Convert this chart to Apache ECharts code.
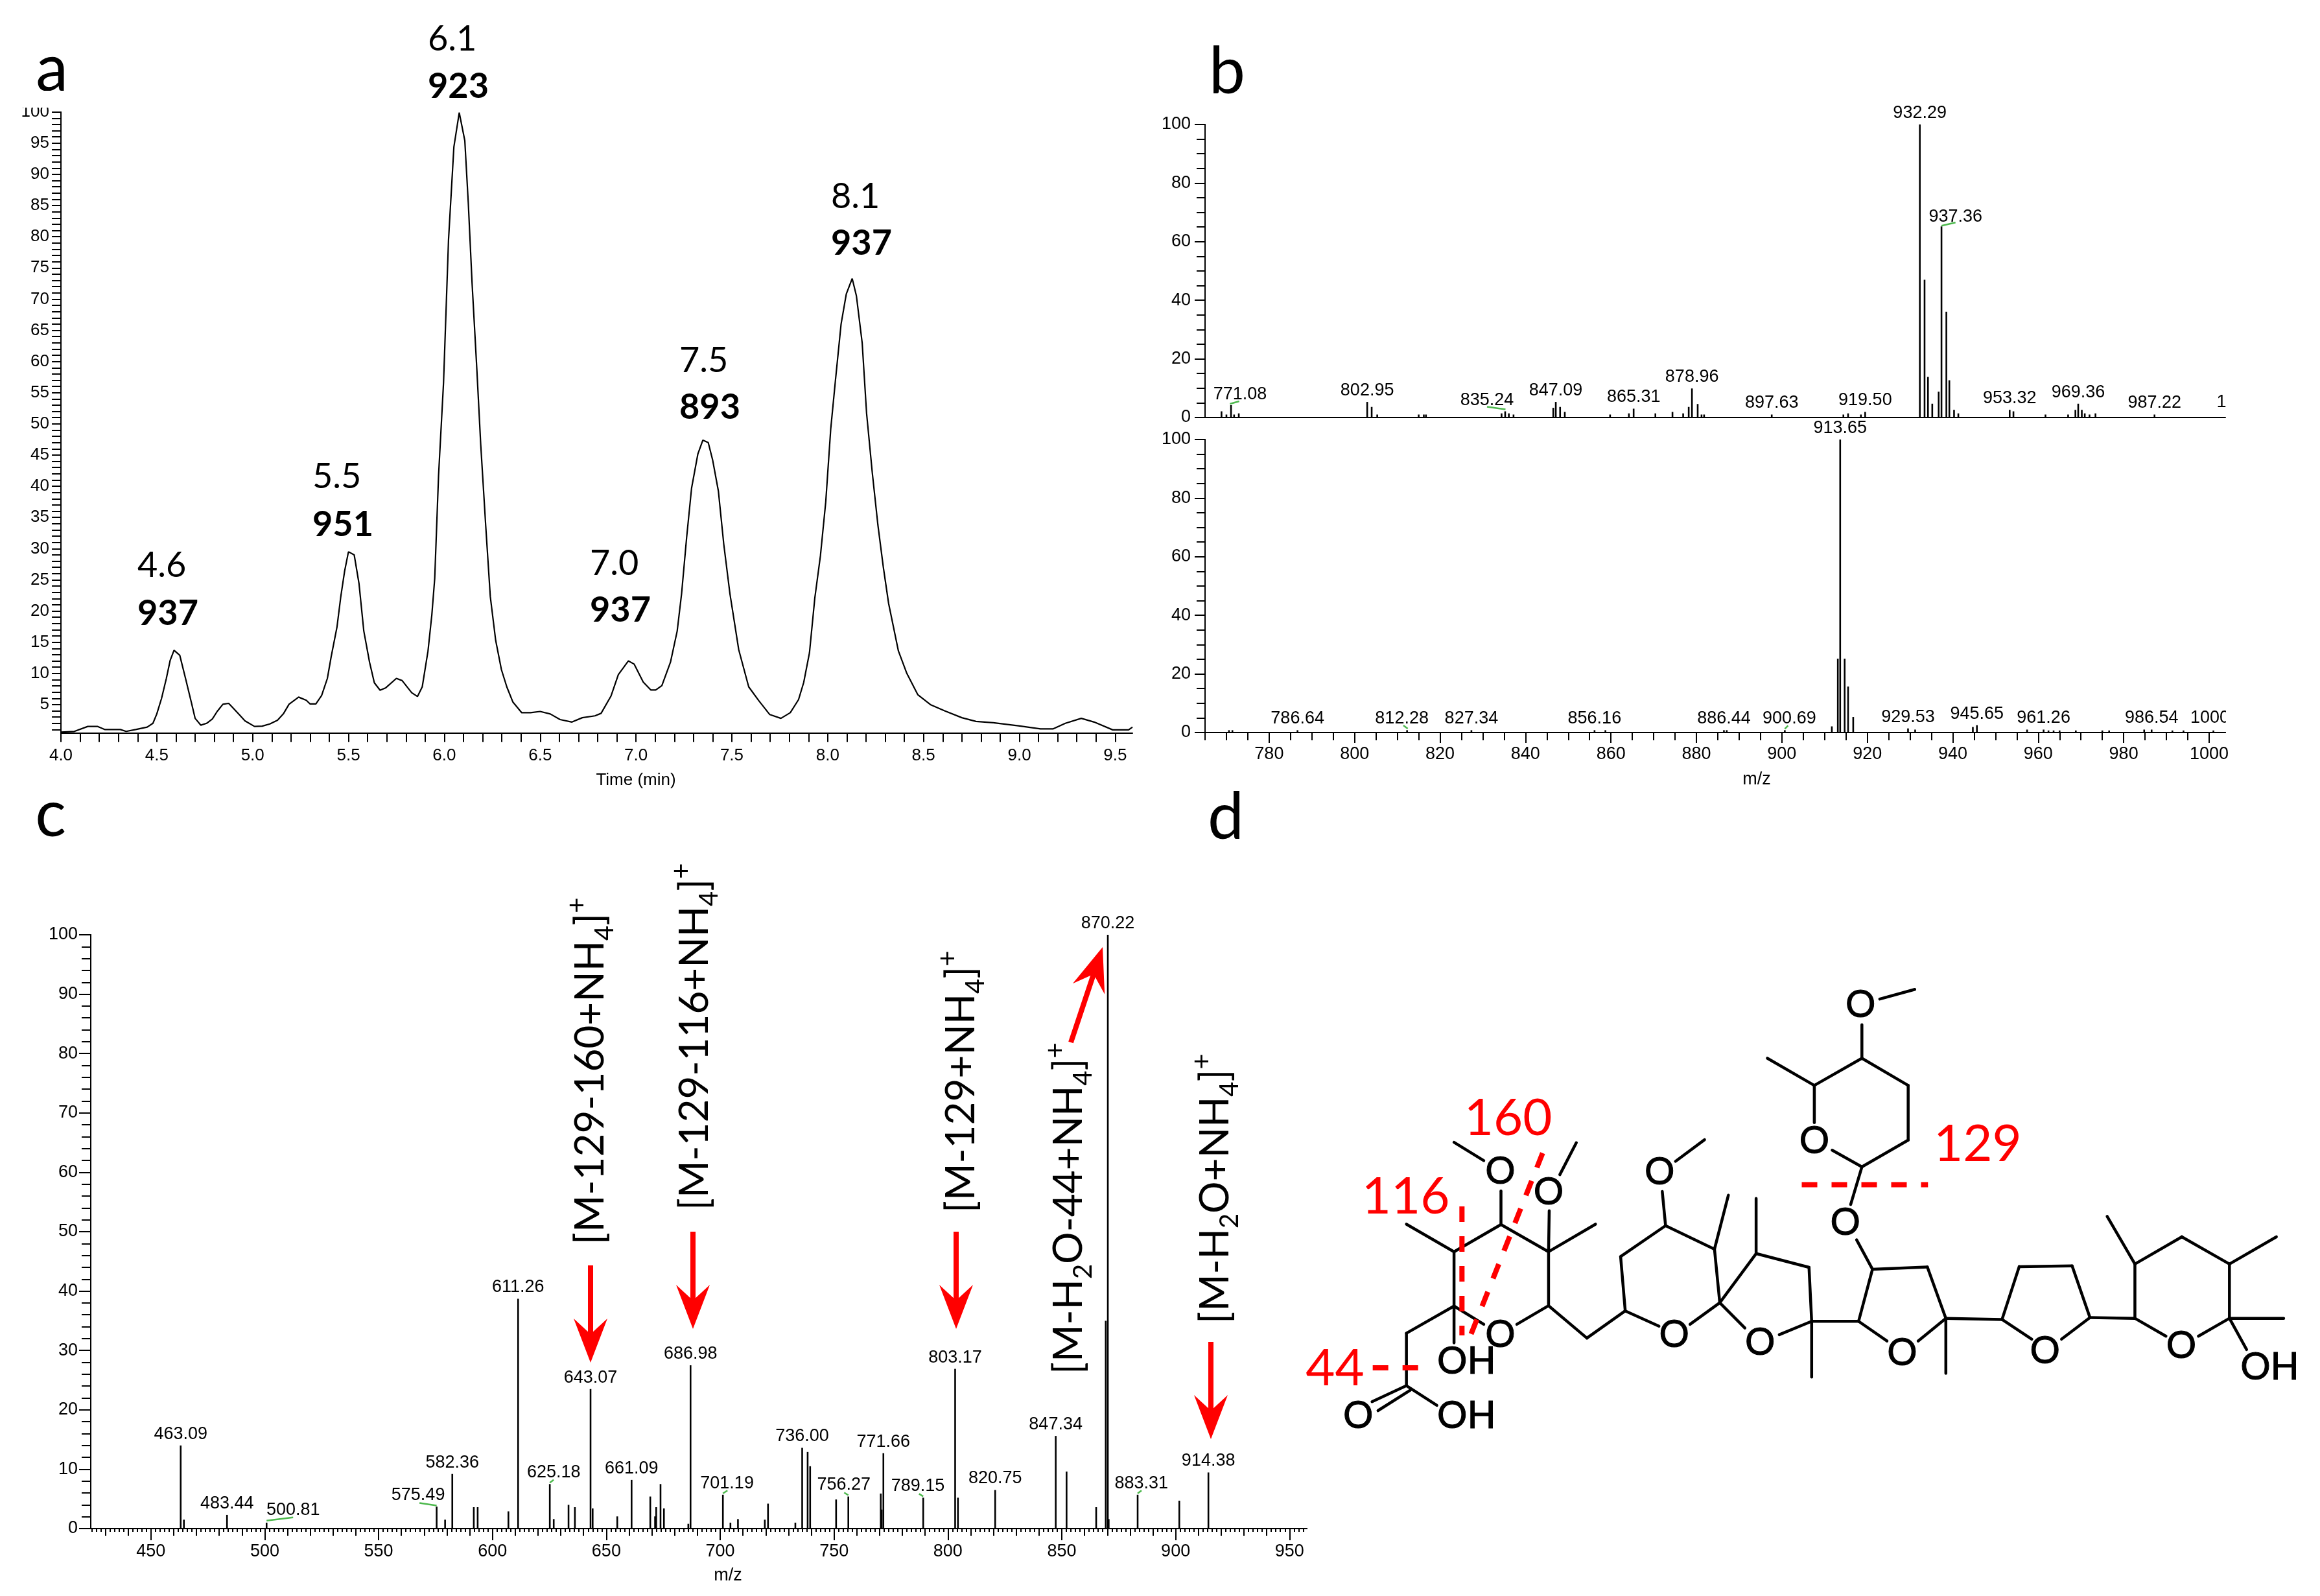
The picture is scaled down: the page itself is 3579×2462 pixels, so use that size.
<!DOCTYPE html>
<html><head><meta charset="utf-8">
<style>html,body{margin:0;padding:0;background:#fff}#c{width:3579px;height:2462px}</style>
<script src="https://cdn.jsdelivr.net/npm/echarts@6/dist/echarts.min.js"></script>
</head><body><div id="c"></div>
<script>
// ---------- panel a: chromatogram ----------
const aTime=[4.00,4.07,4.14,4.19,4.23,4.31,4.34,4.39,4.45,4.48,4.50,4.525,4.55,4.57,4.59,4.62,4.65,4.68,4.70,4.73,4.76,4.79,4.815,4.845,4.875,4.90,4.93,4.96,5.01,5.05,5.09,5.13,5.16,5.19,5.24,5.28,5.30,5.33,5.36,5.39,5.41,5.44,5.46,5.48,5.50,5.53,5.555,5.58,5.61,5.635,5.665,5.695,5.75,5.78,5.83,5.86,5.885,5.915,5.935,5.95,5.97,5.996,6.022,6.05,6.078,6.107,6.125,6.145,6.17,6.19,6.216,6.24,6.268,6.298,6.326,6.358,6.404,6.45,6.50,6.553,6.604,6.666,6.72,6.786,6.818,6.87,6.908,6.96,6.99,7.038,7.077,7.103,7.135,7.18,7.215,7.238,7.264,7.29,7.323,7.349,7.377,7.40,7.43,7.458,7.49,7.536,7.588,7.64,7.698,7.756,7.805,7.848,7.875,7.905,7.933,7.962,7.99,8.016,8.04,8.07,8.097,8.128,8.15,8.18,8.203,8.233,8.262,8.29,8.318,8.369,8.413,8.47,8.536,8.61,8.70,8.774,8.864,8.995,9.11,9.175,9.24,9.323,9.39,9.487,9.57,9.59];
const aSignal=[0.6,0.7,1.5,1.5,1.0,1.0,0.7,1.0,1.4,2.0,3.5,6.0,9.2,12.1,13.7,12.9,9.2,5.4,2.8,1.7,2.0,2.7,3.9,5.05,5.2,4.4,3.4,2.4,1.5,1.55,1.9,2.5,3.5,5.05,6.2,5.7,5.1,5.1,6.45,9.2,12.7,17.4,22.3,26.4,29.5,29.0,24.4,16.8,11.8,8.5,7.3,7.7,9.2,8.85,6.9,6.3,7.85,13.6,19.4,25.2,41.7,56.6,79.5,94.4,99.9,95.4,85.5,72.5,58.6,46.7,33.7,22.3,15.3,10.6,7.85,5.4,3.7,3.7,3.9,3.5,2.6,2.2,2.9,3.2,3.6,6.4,9.8,12.0,11.5,8.6,7.35,7.35,8.05,11.8,16.8,22.8,31.7,39.7,45.2,47.4,47.0,44.2,39.2,30.7,22.8,13.8,7.85,5.65,3.4,2.8,3.7,5.8,8.55,13.3,22.1,28.8,37.5,49.2,56.8,66.0,70.8,73.3,70.5,63.0,51.7,42.1,33.8,27.1,21.2,13.6,10.0,6.6,5.0,4.0,2.9,2.3,2.1,1.6,1.1,1.1,2.0,2.8,2.2,0.95,0.95,1.4];
const aPeakRT=['4.6','5.5','6.1','7.0','7.5','8.1'];
const aPeakMz=['937','951','923','937','893','937'];
const aPeakLeft=[212,482,660,910,1048,1282];
const aPeakRow1=[873,736,61,870,557,304];
const aPeakRow2=[947,810,134,942,629,376];

// ---------- panel b (upper spectrum) ----------
const bTopMz=[768.85,770,771.08,771.8,772.9,802.95,804,805.3,815,816.2,816.7,834.4,835.24,836.1,837.2,846.5,847.09,848.1,849.2,859.8,864.2,865.31,870.4,874.4,876.9,878.2,878.96,880.3,881.2,881.8,897.63,914.4,915.5,918.5,919.50,932.29,933.4,934.2,935.2,936.7,937.36,938.5,939.2,940.3,941.3,953.32,954.2,961.7,967,968.7,969.36,970.2,970.9,972,973.4,987.22];
const bTopInt=[2.1,1,4.2,1,1.4,5.3,3.6,1,1,1,1,1.4,2.1,1.4,1,3.3,5.3,3.6,1.9,1,1.4,3,1.4,1.9,1.4,3.6,9.9,4.6,1,1,1,1,1.4,1,1.9,100,47,13.85,4.7,8.8,65.2,36.1,12.7,2.6,1.4,2.6,2.1,1,1,2.6,4.7,2.6,1.4,1,1.4,1];
const bTopLabeled=[771.08,802.95,835.24,847.09,865.31,878.96,897.63,919.50,932.29,937.36,953.32,969.36,987.22];
const bTopLabelOffset={'771.08':[14,1],'835.24':[-28,1],'937.36':[21.6,3]};
const bTopLeaders=[[771.08,4.2,-1.7,-2,12.6,-6],[835.24,2.1,-28,-7,0.5,-3],[937.36,65.2,0,-1,21.6,-6]];

// ---------- panel b (lower spectrum) ----------
const bBotMz=[770.6,771.4,786.64,812.28,827.34,856.16,858.7,886.44,887.1,900.69,911.7,913.1,913.65,914.7,915.5,916.7,929.53,931.2,944.7,945.65,957.4,961.26,962.4,963.6,965,968.8,975,976.6,984.8,986.54,991.4,994,1001];
const bBotInt=[0.8,0.8,0.8,0.8,0.8,0.8,0.8,0.8,0.8,0.8,2.1,25.2,100,25.2,15.7,5.3,1.4,1,1.9,2.5,1,1,0.7,0.7,0.7,0.7,0.7,0.7,1,1,0.7,0.7,0.7];
const bBotLabeled=[786.64,812.28,827.34,856.16,886.44,900.69,913.65,929.53,945.65,961.26,986.54];
const bBotLabelOffset={'812.28':[-8,0],'900.69':[7,0]};
const bBotLeaders=[[812.28,0.8,-5.7,-7.3,1,-2.3],[900.69,0.8,0,-2,5,-7]];

// ---------- panel c (MS/MS spectrum) ----------
const cMz=[463.09,464.5,483.44,500.81,575.49,579.2,582.36,591.8,593.5,607,611.26,625.18,626.9,633.4,636.2,643.07,644,654.8,661.09,669.3,671.4,671.9,673.8,675.3,686,686.98,701.19,704.5,707.8,719.6,721,733,736.00,738.4,739.5,750.9,756.27,770.5,770.9,771.66,789.15,803.17,804.4,820.75,847.34,852.1,865.1,869.3,870.22,870.6,883.31,901.6,914.38];
const cInt=[14,1.5,2.3,1,3.7,1.5,9.2,3.6,3.6,2.9,38.7,7.5,1.6,4,3.6,23.5,3.4,2.05,8.2,5.4,2.05,3.6,7.5,3.4,0.8,27.5,5.7,1,1.6,1.5,4.2,1,13.6,12.9,10.5,4.9,5.4,5.9,3.2,12.7,5.2,26.9,5.2,6.5,15.6,9.6,3.6,35,100,1.6,5.7,4.7,9.45];
const cLabeled=[463.09,483.44,500.81,575.49,582.36,611.26,625.18,643.07,661.09,686.98,701.19,736.00,756.27,771.66,789.15,803.17,820.75,847.34,883.31,914.38,870.22];
const cLabelOffset={'500.81':[41,-2],'575.49':[-28.5,0],'625.18':[6,0],'701.19':[6.4,0],'756.27':[-7,0],'789.15':[-8.3,0],'883.31':[5.7,0]};
const cLeaders=[[500.81,1,0,-3,41,-8],[575.49,3.7,-26.5,-5.7,0,-1.7],[625.18,7.5,0,-2,6,-6.5],[701.19,5.7,0,-2,7,-6.5],[756.27,5.4,-6.4,-6,0,-2],[789.15,5.2,-6.4,-6,0,-2],[883.31,5.7,0,-2,6,-6.5]];

// ---------- panel c fragment annotations ----------
const fragLabels=['{m|[M-129-160+NH}{s|4}{m|]}{u|+}','{m|[M-129-116+NH}{s|4}{m|]}{u|+}','{m|[M-129+NH}{s|4}{m|]}{u|+}','{m|[M-H}{s|2}{m|O-44+NH}{s|4}{m|]}{u|+}','{m|[M-H}{s|2}{m|O+NH}{s|4}{m|]}{u|+}'];
const fragX=[911,1072,1483,1649,1875];
const fragBottom=[1920,1867,1871,2120,2042];
// arrows: from x,y to x,y
const arrows=[[911,1952,911,2102],[1069,1900,1069,2050],[1475,1900,1475,2050],[1868,2070,1868,2220],[1652,1608,1701,1461]];

// ---------- panel d: structure, in the hidden grid's 0-1568 units ----------
const bonds=[[902,246,955,220],[875,315,875,405],[875,405,945,478],[945,478,945,625],[945,625,875,697],[875,697,830,652],[803,578,803,478],[803,478,875,405],[803,478,732,405],[875,697,858,798],[867,893,891,972],
[891,972,974,966],[974,966,1002,1104],[1002,1104,960,1165],[913,1165,870,1112],[870,1112,891,972],[1002,1104,1002,1252],[799,1112,870,1112],
[660,1062,715,930],[715,930,795,967],[795,967,799,1112],[799,1112,750,1148],[698,1130,660,1062],[715,930,715,782],[799,1112,799,1262],
[660,1062,615,1120],[568,1125,517,1084],[517,1084,510,938],[510,938,578,855],[578,855,652,918],[652,918,660,1062],[652,918,673,773],[578,855,573,763],[593,682,637,624],[517,1084,459,1157],[459,1157,401,1070],
[401,1070,353,1120],[303,1120,258,1071],[258,1071,258,925],[258,925,329,852],[329,852,401,925],[401,925,401,1070],[258,925,186,851],[401,925,472,851],[401,925,402,815],[418,718,443,632],[329,852,329,762],[303,680,258,631],
[258,1071,258,1170],[258,1071,186,1144],[186,1144,186,1285],[186,1285,232,1338],[186,1285,134,1328],[192,1297,143,1352],
[1002,1104,1087,1107],[1087,1107,1132,1160],[1177,1160,1220,1102],[1220,1102,1193,963],[1193,963,1113,965],[1113,965,1087,1107],[1220,1102,1288,1104],[1288,1104,1335,1152],[1384,1152,1431,1104],[1431,1104,1431,958],[1431,958,1359,885],[1359,885,1288,958],[1288,958,1288,1104],[1288,958,1246,830],[1431,958,1502,885],[1431,1104,1513,1104],[1431,1104,1457,1188]];
const cuts=[[784,745,975,745],[135,1237,207,1237],[270,803,270,1150],[392,660,283,1150]];
const atoms=[['O',873,262],['O',803,628],['O',850,848],['O',936,1197],['O',721,1169],['O',591,1148],['O',569,712],['O',328,1148],['O',401,765],['O',328,710],['O',1152,1192],['O',1358,1179],['OH',277,1220],['OH',277,1367],['O',113,1367],['OH',1492,1235]];
const cutLabels=[['160',340,567],['116',185,778],['129',1050,637],['44',78,1240]];

// ---------- plain texts: text, x, y, font, align ----------
const sans='"Liberation Sans"';
const plainTexts=[
['a',80,108,'100px Lato','center'],['b',1893,112,'100px Lato','center'],['c',78,1258,'100px Lato','center'],['d',1891,1262,'100px Lato','center'],
['Time (min)',981,1204,'26px '+sans,'center'],['m/z',2710,1203,'27px '+sans,'center'],['m/z',1123,2431,'27px '+sans,'center'],
['1',3427,621,'27px '+sans,'center'],['1000',3379,1108,'27px '+sans,'left']
];
// white masks reproducing the source's clipping
const masks=[[20,140,75,26],[3434,1085,40,50]];

// ---------- helpers ----------
function multiples(min,max,step){const out=[];for(let i=Math.ceil(min/step-1e-9);i*step<=max+1e-9;i++){out.push(Math.round(i*step*1000)/1000);}return out;}
const BLACK='#000';
const xAxes=[],yAxes=[];
function mkAxis(list,dim,grid,min,max,ticks,lab,opt){
  const o={type:'value',gridIndex:grid,position:dim==='x'?'bottom':'left',min:min,max:max,splitLine:{show:false},
    axisLine:{show:true,onZero:false,lineStyle:{color:BLACK,width:opt.lw||2}},
    axisTick:{show:!!ticks,length:opt.len,inside:false,lineStyle:{color:BLACK,width:opt.tw||2},customValues:ticks||[]},
    axisLabel:{show:!!lab,customValues:lab||[],margin:opt.margin||0,fontSize:opt.fs||27,fontFamily:'Liberation Sans',color:BLACK,formatter:opt.fmt,hideOverlap:false,showMinLabel:true,showMaxLabel:true}};
  list.push(o);return list.length-1;
}
function stem(name,grid,xi,yi,mz,ints,labeled,off){
  return {type:'bar',name:name,xAxisIndex:xi,yAxisIndex:yi,barWidth:2.6,barGap:0,itemStyle:{color:BLACK},silent:true,
    data:mz.map((m,i)=>{const l=labeled.indexOf(m)>=0,k=m.toFixed(2);
      return {value:[m,ints[i]],label:{show:l,position:'top',distance:4,color:BLACK,fontSize:27,fontFamily:'Liberation Sans',formatter:k,offset:off[k]||[0,0]}};})};
}
function leaderSeries(xi,yi,rows){
  return {type:'custom',xAxisIndex:xi,yAxisIndex:yi,silent:true,z:4,data:rows,encode:{x:0,y:1},renderItem:(p,api)=>{
    const c=api.coord([api.value(0),api.value(1)]);
    return {type:'line',shape:{x1:c[0]+api.value(2),y1:c[1]+api.value(3),x2:c[0]+api.value(4),y2:c[1]+api.value(5)},style:{stroke:'#4cb84c',lineWidth:2.5}};}};
}
const grids=[
 {left:94,top:172.7,width:1653,height:958},
 {left:1859,top:192,width:1574,height:452},
 {left:1859,top:678,width:1574,height:452},
 {left:140,top:1442,width:1876,height:916},
 {left:0,top:0,width:3579,height:2462},
 {left:1980,top:1400,width:1599,height:900}];
grids.forEach(g=>g.containLabel=false);

// panel a axes
const aX=mkAxis(xAxes,'x',0,4,9.59,multiples(4,9.59,0.1),multiples(4,9.5,0.5),{len:14,margin:22,fs:26,fmt:v=>Number(v).toFixed(1)});
const aY=mkAxis(yAxes,'y',0,0.45,100,multiples(1,100,1),multiples(5,100,5),{len:14,margin:18,fs:26,fmt:v=>String(v)});
// panel b upper
const b1X=mkAxis(xAxes,'x',1,765,1003.8,null,null,{len:0});
const b1Y=mkAxis(yAxes,'y',1,0,100,multiples(0,100,20),multiples(0,100,20),{len:16,margin:22,fmt:v=>String(v)});
mkAxis(yAxes,'y',1,0,100,multiples(0,100,5),null,{len:13});
// panel b lower
const b2X=mkAxis(xAxes,'x',2,765,1003.8,multiples(780,1000,20),multiples(780,1000,20),{len:16,margin:20,fmt:v=>String(v)});
mkAxis(xAxes,'x',2,765,1003.8,multiples(765,1003.8,5),null,{len:12});
const b2Y=mkAxis(yAxes,'y',2,0,100,multiples(0,100,20),multiples(0,100,20),{len:16,margin:22,fmt:v=>String(v)});
mkAxis(yAxes,'y',2,0,100,multiples(0,100,5),null,{len:13});
// panel c
const cX=mkAxis(xAxes,'x',3,423.6,957.6,multiples(450,950,50),multiples(450,950,50),{len:18,margin:22,fmt:v=>String(v)});
mkAxis(xAxes,'x',3,423.6,957.6,multiples(430,950,10),null,{len:11});
mkAxis(xAxes,'x',3,423.6,957.6,multiples(424,957.6,2),null,{len:5});
const cY=mkAxis(yAxes,'y',3,0,100,multiples(0,100,10),multiples(0,100,10),{len:18,margin:20,fmt:v=>String(v)});
mkAxis(yAxes,'y',3,0,100,multiples(0,100,2),null,{len:14});
// hidden overlay grids
function hidden(list,grid,max,inv){list.push({type:'value',gridIndex:grid,min:0,max:max,inverse:!!inv,show:false,position:list===xAxes?'bottom':'left'});return list.length-1;}
const ovX=hidden(xAxes,4,3579),ovY=hidden(yAxes,4,2462,true);
const stX=hidden(xAxes,5,1568),stY=hidden(yAxes,5,1568,true);

function textEl(api,x,y,text,font,align,fill,sw){
  const c=api.coord([x,y]);
  const st={text:text,font:font,fill:fill||BLACK,align:align,verticalAlign:'middle'};
  if(sw){st.stroke=fill||BLACK;st.lineWidth=sw;}
  return {type:'text',x:c[0],y:c[1],style:st};
}
const overlayBase={type:'custom',silent:true,z:10,clip:false};
const series=[
 {type:'line',xAxisIndex:aX,yAxisIndex:aY,showSymbol:false,silent:true,lineStyle:{color:BLACK,width:2.2},data:aTime.map((t,i)=>[t,aSignal[i]])},
 stem('b1',1,b1X,b1Y,bTopMz,bTopInt,bTopLabeled,bTopLabelOffset),
 stem('b2',2,b2X,b2Y,bBotMz,bBotInt,bBotLabeled,bBotLabelOffset),
 stem('c',3,cX,cY,cMz,cInt,cLabeled,cLabelOffset),
 leaderSeries(b1X,b1Y,bTopLeaders),leaderSeries(b2X,b2Y,bBotLeaders),leaderSeries(cX,cY,cLeaders),
 // peak annotations, panel a
 Object.assign({},overlayBase,{xAxisIndex:ovX,yAxisIndex:ovY,data:aPeakRT.map((r,i)=>[i]),encode:{x:0,y:0},renderItem:(p,api)=>{const i=api.value(0);
   return {type:'group',children:[textEl(api,aPeakLeft[i],aPeakRow1[i],aPeakRT[i],'54px Lato','left'),textEl(api,aPeakLeft[i],aPeakRow2[i],aPeakMz[i],'bold 54px Lato','left')]};}}),
 // plain texts
 Object.assign({},overlayBase,{xAxisIndex:ovX,yAxisIndex:ovY,data:plainTexts.map((t,i)=>[i]),encode:{x:0,y:0},renderItem:(p,api)=>{const t=plainTexts[api.value(0)];return textEl(api,t[1],t[2],t[0],t[3],t[4]);}}),
 // white masks
 Object.assign({},overlayBase,{z:12,xAxisIndex:ovX,yAxisIndex:ovY,data:masks,encode:{x:0,y:1},renderItem:(p,api)=>{const c=api.coord([api.value(0),api.value(1)]);
   return {type:'rect',shape:{x:c[0],y:c[1],width:api.value(2),height:api.value(3)},style:{fill:'#fff'}};}}),
 // fragment labels (rotated rich text)
 Object.assign({},overlayBase,{xAxisIndex:ovX,yAxisIndex:ovY,data:fragLabels.map((t,i)=>[i]),encode:{x:0,y:0},renderItem:(p,api)=>{const i=api.value(0);const c=api.coord([fragX[i],fragBottom[i]]);
   return {type:'text',x:c[0],y:c[1],rotation:Math.PI/2,style:{text:fragLabels[i],align:'left',verticalAlign:'middle',fill:BLACK,
     rich:{m:{fontFamily:'Lato',fontSize:62,lineHeight:84,verticalAlign:'middle',fill:BLACK},s:{fontFamily:'Lato',fontSize:40,verticalAlign:'bottom',lineHeight:50,fill:BLACK},u:{fontFamily:'Lato',fontSize:42,verticalAlign:'top',lineHeight:50,fill:BLACK}}}};}}),
 // red arrows
 Object.assign({},overlayBase,{xAxisIndex:ovX,yAxisIndex:ovY,data:arrows,encode:{x:[0,2],y:[1,3]},renderItem:(p,api)=>{
   const a=api.coord([api.value(0),api.value(1)]),b=api.coord([api.value(2),api.value(3)]);
   const dx=b[0]-a[0],dy=b[1]-a[1],L=Math.hypot(dx,dy),ux=dx/L,uy=dy/L,nx=-uy,ny=ux;const hl=68,hw=26,nt=44;
   return {type:'group',children:[
     {type:'line',shape:{x1:a[0],y1:a[1],x2:b[0]-ux*nt,y2:b[1]-uy*nt},style:{stroke:'#ff0000',lineWidth:8}},
     {type:'polygon',shape:{points:[[b[0],b[1]],[b[0]-ux*hl+nx*hw,b[1]-uy*hl+ny*hw],[b[0]-ux*nt,b[1]-uy*nt],[b[0]-ux*hl-nx*hw,b[1]-uy*hl-ny*hw]]},style:{fill:'#ff0000'}}]};}}),
 // structure bonds
 Object.assign({},overlayBase,{xAxisIndex:stX,yAxisIndex:stY,data:bonds,encode:{x:[0,2],y:[1,3]},renderItem:(p,api)=>{
   const a=api.coord([api.value(0),api.value(1)]),b=api.coord([api.value(2),api.value(3)]);
   return {type:'line',shape:{x1:a[0],y1:a[1],x2:b[0],y2:b[1]},style:{stroke:BLACK,lineWidth:4.5,lineCap:'round'}};}}),
 // structure red cuts
 Object.assign({},overlayBase,{z:11,xAxisIndex:stX,yAxisIndex:stY,data:cuts,encode:{x:[0,2],y:[1,3]},renderItem:(p,api)=>{
   const a=api.coord([api.value(0),api.value(1)]),b=api.coord([api.value(2),api.value(3)]);
   return {type:'line',shape:{x1:a[0],y1:a[1],x2:b[0],y2:b[1]},style:{stroke:'#ff0000',lineWidth:8,lineDash:[24,22]}};}}),
 // atoms
 Object.assign({},overlayBase,{xAxisIndex:stX,yAxisIndex:stY,data:atoms.map((t,i)=>[i]),encode:{x:0,y:0},renderItem:(p,api)=>{const t=atoms[api.value(0)];return textEl(api,t[1],t[2],t[0],'58px Lato','center',BLACK,1);}}),
 Object.assign({},overlayBase,{xAxisIndex:stX,yAxisIndex:stY,data:cutLabels.map((t,i)=>[i]),encode:{x:0,y:0},renderItem:(p,api)=>{const t=cutLabels[api.value(0)];return textEl(api,t[1],t[2],t[0],'78px Lato','center','#ff0000');}})
];
const chart=echarts.init(document.getElementById('c'),null,{renderer:'canvas',width:3579,height:2462});
chart.setOption({animation:false,backgroundColor:'#fff',grid:grids,xAxis:xAxes,yAxis:yAxes,tooltip:{show:false},series:series});
</script></body></html>
